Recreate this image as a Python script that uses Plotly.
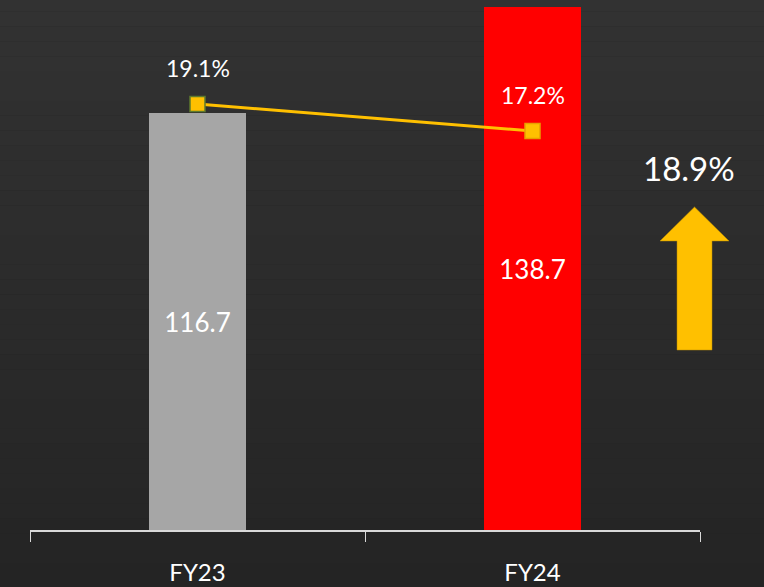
import plotly.graph_objects as go

years = ["FY23", "FY24"]
revenue = [116.7, 138.7]
margin_pct = [19.1, 17.2]
growth_label = "18.9%"

bar_colors = ["#A6A6A6", "#FF0000"]
gold = "#FFC000"
font_family = "Lato, 'Open Sans', sans-serif"

# value axis does not start at zero in the source chart
y_min, y_max = 30.2, 138.7

fig = go.Figure()

fig.add_trace(go.Bar(
    x=years, y=[v - y_min for v in revenue], base=y_min,
    marker=dict(color=bar_colors, line=dict(width=0)),
    width=0.287,
    text=[f"{v:.1f}" for v in revenue],
    textposition="inside", insidetextanchor="middle",
    textfont=dict(color="white", size=26, family=font_family),
    showlegend=False,
))

fig.add_trace(go.Scatter(
    x=years, y=margin_pct, yaxis="y2",
    mode="lines+markers",
    line=dict(color=gold, width=3),
    marker=dict(symbol="square", size=15, color=gold,
                line=dict(color=["#5E7A2E", "#E8A000"], width=1.5)),
    cliponaxis=False,
    showlegend=False,
))

# dark gradient background built from thin bands
shapes = []
n = 40
top, bottom = (0x32, 0x32, 0x32), (0x24, 0x24, 0x24)
for i in range(n):
    t = i / (n - 1)
    c = tuple(round(top[k] + (bottom[k] - top[k]) * t) for k in range(3))
    shapes.append(dict(
        type="rect", xref="paper", yref="paper", layer="below",
        x0=-0.1, x1=1.2, y0=1.02 - (i + 1) * 1.14 / n, y1=1.02 - i * 1.14 / n,
        fillcolor="rgb(%d,%d,%d)" % c, line=dict(width=0),
    ))

# up arrow on the right
def px(x, y):
    return (x - 30) / 670, (530 - y) / 523

pts = [(694.5, 207), (729, 241), (712, 241), (712, 350),
       (677, 350), (677, 241), (660, 241)]
path = "M " + " L ".join("%.4f %.4f" % px(x, y) for x, y in pts) + " Z"
shapes.append(dict(type="path", xref="paper", yref="paper", path=path,
                   fillcolor=gold, line=dict(color="#C09000", width=0.5)))

annotations = [dict(
    x=px(689, 168)[0], y=px(689, 168)[1], xref="paper", yref="paper",
    xanchor="center", yanchor="middle",
    text=growth_label, showarrow=False,
    font=dict(color="white", size=33, family=font_family),
)]
for yr, v in zip(years, margin_pct):
    annotations.append(dict(
        x=yr, y=v, xref="x", yref="y2", yshift=36,
        xanchor="center", yanchor="middle",
        text=f"{v:.1f}%", showarrow=False,
        font=dict(color="white", size=23, family=font_family),
    ))

fig.update_layout(
    width=764, height=587,
    margin=dict(l=30, r=64, t=7, b=57, autoexpand=False),
    paper_bgcolor="#262626", plot_bgcolor="rgba(0,0,0,0)",
    bargap=0,
    shapes=shapes,
    annotations=annotations,
    xaxis=dict(
        showgrid=False, zeroline=False, automargin=False,
        showline=True, linecolor="#D9D9D9", linewidth=1.5,
        ticks="outside", tickson="boundaries", ticklen=10,
        tickcolor="#D9D9D9", tickwidth=1,
        ticklabelstandoff=20,
        tickfont=dict(color="white", size=24, family=font_family),
        range=[-0.5, 1.5],
    ),
    yaxis=dict(range=[y_min, y_max], visible=False, showgrid=False),
    yaxis2=dict(range=[-10.88, 25.93], overlaying="y", side="right",
                visible=False, showgrid=False),
)

fig.write_html("out.html", config={"displayModeBar": False},
               post_script="document.body.style.margin='0';")
